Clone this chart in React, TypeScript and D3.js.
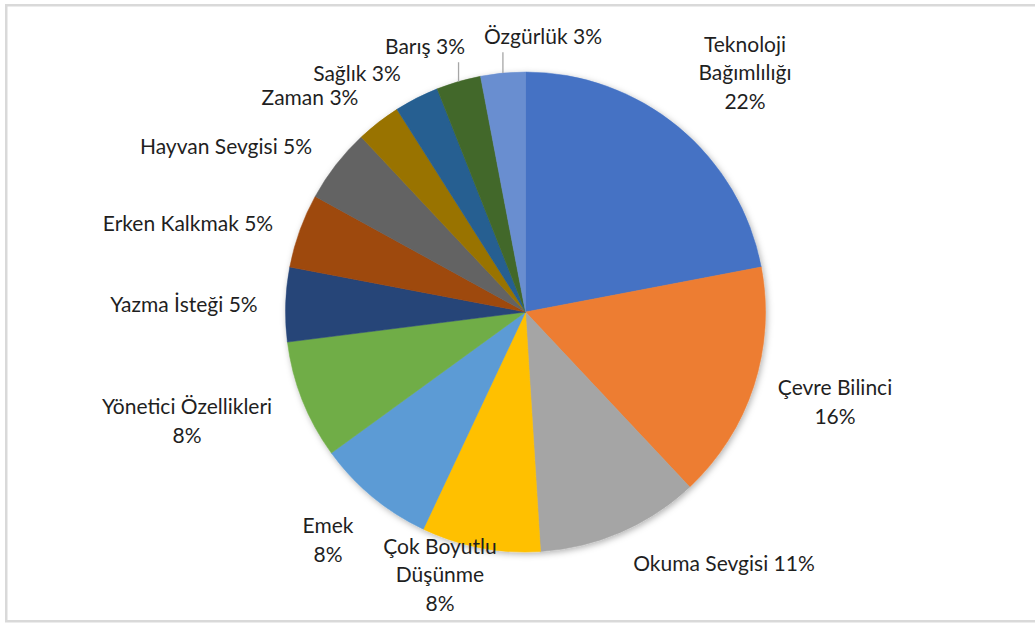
import React from "react";
import * as d3 from "d3";

const categories: string[] = [
  "Teknoloji Bağımlılığı",
  "Çevre Bilinci",
  "Okuma Sevgisi",
  "Çok Boyutlu Düşünme",
  "Emek",
  "Yönetici Özellikleri",
  "Yazma İsteği",
  "Erken Kalkmak",
  "Hayvan Sevgisi",
  "Zaman",
  "Sağlık",
  "Barış",
  "Özgürlük",
];
const values: number[] = [22, 16, 11, 8, 8, 8, 5, 5, 5, 3, 3, 3, 3];
const colors: string[] = [
  "#4472C4", "#ED7D31", "#A5A5A5", "#FFC000", "#5B9BD5", "#70AD47",
  "#264478", "#9E480E", "#636363", "#997300", "#255E91", "#43682B", "#698ED0",
];
const labelLines: string[][] = [
  ["Teknoloji", "Bağımlılığı", "22%"],
  ["Çevre Bilinci", "16%"],
  ["Okuma Sevgisi 11%"],
  ["Çok Boyutlu", "Düşünme", "8%"],
  ["Emek", "8%"],
  ["Yönetici Özellikleri", "8%"],
  ["Yazma İsteği 5%"],
  ["Erken Kalkmak 5%"],
  ["Hayvan Sevgisi 5%"],
  ["Zaman 3%"],
  ["Sağlık 3%"],
  ["Barış 3%"],
  ["Özgürlük 3%"],
];
// label block centres (layout)
const labelCenters: [number, number][] = [
  [745, 73], [835, 402], [724, 564], [440, 575], [328, 540], [187, 421],
  [184, 305], [188, 224], [226, 147], [310, 98], [357, 74], [425, 47], [543, 37],
];
const leaderIdx = [11, 12];

const W = 1035, H = 624;
const cx = 525.5, cy = 312, R = 240;
const FS = 21, LH = 28.5;

export default function App() {
  const pie = d3.pie<number>().sort(null).value((d) => d);
  const arcs = pie(values);
  const arcGen = d3.arc<d3.PieArcDatum<number>>().innerRadius(0).outerRadius(R);

  return (
    <div style={{ position: "fixed", left: 0, top: 0 }}>
      <svg width={W} height={H} style={{ display: "block", background: "#fff" }}>
        <defs>
          <filter id="sh" x="-10%" y="-10%" width="120%" height="120%">
            <feDropShadow dx="1.5" dy="2" stdDeviation="3" floodColor="#000" floodOpacity="0.3" />
          </filter>
        </defs>
        <rect x={6.25} y={5.25} width={W + 10} height={616} fill="none" stroke="#d9d9d9" strokeWidth={2.5} />
        <g transform={`translate(${cx},${cy})`} filter="url(#sh)">
          {arcs.map((a, i) => (
            <path key={i} d={arcGen(a) || ""} fill={colors[i]} stroke={colors[i]} strokeWidth={0.5} />
          ))}
        </g>
        {leaderIdx.map((i) => {
          const a = arcs[i];
          const m = (a.startAngle + a.endAngle) / 2;
          const x = cx + R * Math.sin(m);
          const y = cy - R * Math.cos(m);
          const lines = labelLines[i];
          const top = labelCenters[i][1] + (lines.length * LH) / 2 + 1;
          return <line key={i} x1={x} y1={y} x2={x} y2={top} stroke="#a6a6a6" strokeWidth={1.3} />;
        })}
        {labelLines.map((lines, i) => {
          const [lx, ly] = labelCenters[i];
          const y0 = ly - ((lines.length - 1) * LH) / 2;
          return (
            <text key={categories[i]} x={lx} textAnchor="middle" fontFamily="Lato, 'Open Sans', sans-serif" fontSize={FS} fill="#1f1f1f">
              {lines.map((t, j) => (
                <tspan key={j} x={lx} y={y0 + j * LH} dy="0.35em">{t}</tspan>
              ))}
            </text>
          );
        })}
      </svg>
    </div>
  );
}
